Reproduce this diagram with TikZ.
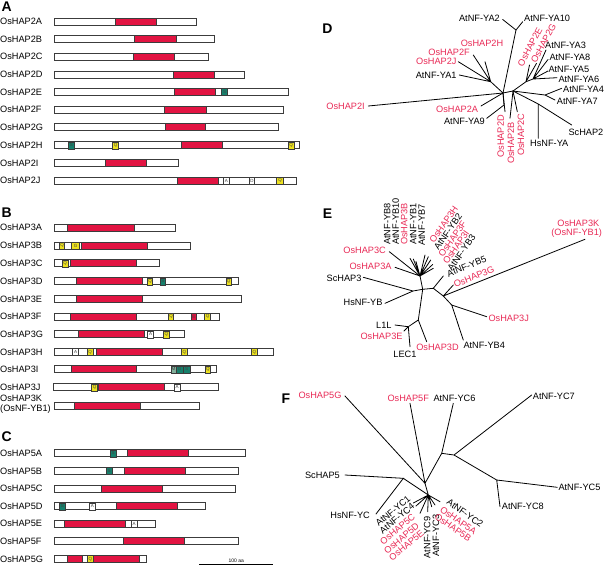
\documentclass[tikz,border=0pt]{standalone}
\usepackage{fontspec}
\setmainfont{Liberation Sans}
\definecolor{dred}{RGB}{226,20,66}
\definecolor{lred}{RGB}{232,42,86}
\definecolor{dyel}{RGB}{236,224,30}
\definecolor{dteal}{RGB}{22,128,108}
\definecolor{dmint}{RGB}{130,175,155}
\definecolor{outl}{RGB}{60,60,60}
\newcommand\protbar[3][54.3]{\draw[barbox,fill=white] (#1,{#2-3.5}) rectangle (#3,{#2+3.5});}
\newcommand\dseg[3]{\draw[barbox,fill=dred] (#2,{#1-3.5}) rectangle (#3,{#1+3.5});}
\newcommand\dmot[5]{\draw[mbox,fill=#4] (#2,{#1-3.5}) rectangle (#3,{#1+3.5}); \node[motif] at ({(#2+#3)/2},#1) {#5};}
\begin{document}
\begin{tikzpicture}[x=1pt,y=-1pt,
 lab/.style={font=\fontsize{9.2}{10}\selectfont, inner sep=0pt},
 rlab/.style={lab,text=lred},
 barbox/.style={draw=outl,line width=0.75pt},
 mbox/.style={draw=outl,line width=0.5pt},
 motif/.style={font=\fontsize{4.5}{5}\selectfont,inner sep=0pt,text=black!75},
 branch/.style={line width=0.8pt,line cap=round},
 plabel/.style={font=\fontsize{14}{14}\bfseries\selectfont,inner sep=0pt}]
\useasboundingbox (0,0) rectangle (605,566);
% ---------------- Panel A ----------------
\node[plabel,anchor=north west] (pA) at (1.5,1.5) {A};
\node[lab,anchor=west] (l2A) at (0,21.7) {OsHAP2A};
\node[lab,anchor=west] (l2B) at (0,39.3) {OsHAP2B};
\node[lab,anchor=west] (l2C) at (0,56.7) {OsHAP2C};
\node[lab,anchor=west] (l2D) at (0,74.7) {OsHAP2D};
\node[lab,anchor=west] (l2E) at (0,92) {OsHAP2E};
\node[lab,anchor=west] (l2F) at (0,109.7) {OsHAP2F};
\node[lab,anchor=west] (l2G) at (0,127.3) {OsHAP2G};
\node[lab,anchor=west] (l2H) at (0,145.3) {OsHAP2H};
\node[lab,anchor=west] (l2I) at (0,163) {OsHAP2I};
\node[lab,anchor=west] (l2J) at (0,180.7) {OsHAP2J};
\protbar{21.7}{196.7}\dseg{21.7}{115}{156}
\protbar{39.3}{214.3}\dseg{39.3}{134.3}{176}
\protbar{56.7}{208.3}\dseg{56.7}{133.3}{174.3}
\protbar{74.7}{244.3}\dseg{74.7}{173.3}{214.7}
\protbar{92}{288}\dseg{92}{174.3}{215.3}\dmot{92}{221.7}{227.7}{dteal}{S}
\protbar{109.7}{283.3}\dseg{109.7}{164.3}{206}
\protbar{127.3}{278.3}\dseg{127.3}{165}{205.7}
\protbar{145.3}{299.6}\dmot{145.3}{68.3}{74.3}{dteal}{S}\dmot{145.3}{112.7}{118.7}{dyel}{Q}\dseg{145.3}{181.7}{222.7}\dmot{145.3}{288.3}{294}{dyel}{Q}
\protbar{163}{178.3}\dseg{163}{105.3}{146.7}
\protbar{180.7}{296}\dseg{180.7}{177.3}{218.3}\dmot{180.7}{223.3}{229.3}{white}{A}\dmot{180.7}{249.3}{254.7}{white}{D}\dmot{180.7}{276.7}{283.3}{dyel}{Q}
% ---------------- Panel B ----------------
\node[plabel,anchor=north west] (pB) at (1.5,208) {B};
\node[lab,anchor=west] (l3A) at (0,227.7) {OsHAP3A};
\node[lab,anchor=west] (l3B) at (0,245.7) {OsHAP3B};
\node[lab,anchor=west] (l3C) at (0,263.3) {OsHAP3C};
\node[lab,anchor=west] (l3D) at (0,281.3) {OsHAP3D};
\node[lab,anchor=west] (l3E) at (0,299) {OsHAP3E};
\node[lab,anchor=west] (l3F) at (0,316.7) {OsHAP3F};
\node[lab,anchor=west] (l3G) at (0,334.3) {OsHAP3G};
\node[lab,anchor=west] (l3H) at (0,352) {OsHAP3H};
\node[lab,anchor=west] (l3I) at (0,369.3) {OsHAP3I};
\node[lab,anchor=west] (l3J) at (0,387.3) {OsHAP3J};
\node[lab,anchor=west] (l3K) at (0,398.5) {OsHAP3K};
\node[lab,anchor=west] (l3Kb) at (0,409.5) {(OsNF-YB1)};
\protbar{227.7}{175.3}\dseg{227.7}{67.7}{134}
\protbar{245.7}{190.7}\dmot{245.7}{59.3}{64.7}{dyel}{Q}\dmot{245.7}{71.7}{79.3}{dyel}{G}\dseg{245.7}{81.3}{147}
\protbar{263.3}{159.3}\dmot{263.3}{62.3}{68}{dyel}{Q}\dseg{263.3}{70.7}{136.3}
\protbar{281.3}{238.7}\dseg{281.3}{76}{142}\dmot{281.3}{147.3}{152.7}{dyel}{Q}\dmot{281.3}{160}{165.7}{dteal}{S}\dmot{281.3}{226}{231.3}{dyel}{Q}
\protbar{299}{241.3}\dseg{299}{76.7}{142.7}
\protbar{316.7}{219.3}\dseg{316.7}{70}{136.3}\dmot{316.7}{168.3}{173.7}{dyel}{Q}\dmot{316.7}{191.3}{196.3}{dred}{E}\dmot{316.7}{204.7}{210.3}{dyel}{Q}
\protbar{334.3}{184.3}\dseg{334.3}{78.3}{144.3}\dmot{334.3}{147.7}{153.3}{white}{A}\dmot{334.3}{163.7}{169}{dyel}{Q}
\protbar{352}{273.3}\dmot{352}{72.7}{78.7}{white}{A}\dmot{352}{87.3}{93}{dyel}{Q}\dseg{352}{96}{162.3}\dmot{352}{181.7}{187}{dyel}{Q}\dmot{352}{251.7}{257}{dyel}{Q}
\protbar{369.3}{216}\dseg{369.3}{71}{136.7}\dmot{369.3}{171}{176}{dmint}{M}\dmot{369.3}{176}{183}{dteal}{G}\dmot{369.3}{183}{190}{dteal}{S}\dmot{369.3}{205}{210.7}{dyel}{Q}
\protbar[53.3]{387.3}{218.3}\dmot{387.3}{91.7}{97.3}{dyel}{Q}\dseg{387.3}{98.3}{164}\dmot{387.3}{174}{180}{white}{A}
\protbar{405.7}{199}\dseg{405.7}{74.3}{140.7}
% ---------------- Panel C ----------------
\node[plabel,anchor=north west] (pC) at (1.5,432) {C};
\node[lab,anchor=west] (l5A) at (0,453.3) {OsHAP5A};
\node[lab,anchor=west] (l5B) at (0,471) {OsHAP5B};
\node[lab,anchor=west] (l5C) at (0,488.7) {OsHAP5C};
\node[lab,anchor=west] (l5D) at (0,506.3) {OsHAP5D};
\node[lab,anchor=west] (l5E) at (0,523.7) {OsHAP5E};
\node[lab,anchor=west] (l5F) at (0,541.3) {OsHAP5F};
\node[lab,anchor=west] (l5G) at (0,559) {OsHAP5G};
\protbar{453.3}{245.3}\dmot{453.3}{110}{116}{dteal}{S}\dseg{453.3}{127.3}{188.7}
\protbar{471}{238.7}\dmot{471}{106}{112.3}{dteal}{S}\dseg{471}{124.3}{185.3}
\protbar{488.7}{235.7}\dseg{488.7}{101.7}{162.7}
\protbar{506.3}{205.7}\dmot{506.3}{59.3}{65.3}{dteal}{S}\dmot{506.3}{89.3}{95.3}{white}{A}\dseg{506.3}{116.3}{177.3}
\protbar{523.7}{155}\dseg{523.7}{64.7}{125.7}\dmot{523.7}{131}{137}{white}{A}
\protbar{541.3}{238}\dseg{541.3}{123.7}{184.3}
\protbar{559}{146.3}\dseg{559}{67.3}{82.3}\dmot{559}{87.3}{93.3}{dyel}{Q}\dseg{559}{93.3}{139.3}
\coordinate (sb1) at (199.3,564.3);
\coordinate (sb2) at (273.3,564.3);
\draw[line width=0.6pt] (sb1) -- (sb2);
\node[font=\fontsize{5}{6}\selectfont,inner sep=0pt] (sbt) at (236.3,560.3) {100 aa};
% ---------------- Panel D ----------------
\node[plabel] (pD) at (327.5,29) {D};
\coordinate (dc1) at (503,93);
\coordinate (dc2) at (513,91);
\coordinate (dU) at (516,30);
\coordinate (dH) at (490.7,81.7);
\coordinate (dE) at (526,81.7);
\coordinate (dR) at (533,79);
\coordinate (d4) at (545,95);
\coordinate (dS) at (538.3,104);
\coordinate (dA) at (504,105);
\node[lab,anchor=east] (tYA2) at (500,18.3) {AtNF-YA2};
\node[lab,anchor=west] (tYA10) at (524,18.3) {AtNF-YA10};
\node[rlab] (t2H) at (482,43.3) {OsHAP2H};
\node[rlab,anchor=east] (t2F) at (470,52.3) {OsHAP2F};
\node[rlab,anchor=east] (t2J) at (456.7,61) {OsHAP2J};
\node[lab,anchor=east] (tYA1) at (456.7,75.7) {AtNF-YA1};
\node[rlab,anchor=east] (t2I) at (365,106.7) {OsHAP2I};
\node[rlab,anchor=east] (t2A) at (478.3,109) {OsHAP2A};
\node[lab,anchor=east] (tYA9) at (485,121.7) {AtNF-YA9};
\node[lab,anchor=west] (tYA3) at (545,45.7) {AtNF-YA3};
\node[lab,anchor=west] (tYA8) at (549.3,57.3) {AtNF-YA8};
\node[lab,anchor=west] (tYA5) at (548.3,69) {AtNF-YA5};
\node[lab,anchor=west] (tYA6) at (558.3,79) {AtNF-YA6};
\node[lab,anchor=west] (tYA4) at (563,89.3) {AtNF-YA4};
\node[lab,anchor=west] (tYA7) at (556.7,101.7) {AtNF-YA7};
\node[lab,anchor=east] (tSc2) at (603.5,132.7) {ScHAP2};
\node[lab,anchor=west] (tHs2) at (530,143.3) {HsNF-YA};
\node[rlab,rotate=62] (t2E) at (530,47) {OsHAP2E};
\node[rlab,rotate=62] (t2G) at (543.5,43.5) {OsHAP2G};
\node[rlab,rotate=90,anchor=east] (t2D) at (500.8,115) {OsHAP2D};
\node[rlab,rotate=90,anchor=east] (t2B) at (511,121.7) {OsHAP2B};
\node[rlab,rotate=90,anchor=east] (t2C) at (521,113.3) {OsHAP2C};
\coordinate (eYA2) at (502.7,19.5);
\coordinate (eYA10) at (522.7,21.7);
\coordinate (e2H) at (485,61.7);
\coordinate (e2F) at (473.3,55);
\coordinate (e2J) at (458.3,61.7);
\coordinate (eYA1) at (459.3,75);
\coordinate (e2I) at (368.3,106);
\coordinate (e2A) at (481,106);
\coordinate (eYA9) at (486.7,118.3);
\coordinate (e2E) at (529.5,65);
\coordinate (e2G) at (536.5,63.3);
\coordinate (eYA3) at (546,50);
\coordinate (eYA8) at (548,59.5);
\coordinate (eYA5) at (548,71);
\coordinate (eYA6) at (557,77.7);
\coordinate (eYA4) at (561.7,88.3);
\coordinate (eYA7) at (555,100);
\coordinate (eSc2) at (571.7,125);
\coordinate (eHs2) at (538.3,138.3);
\coordinate (e2D) at (505,111.7);
\coordinate (e2B) at (510,118.3);
\coordinate (e2C) at (517.3,111.7);
\draw[branch] (e2I) -- (dc1) -- (dc2);
\draw[branch] (dc1) -- (dU) -- (eYA2) (dU) -- (eYA10);
\draw[branch] (dc1) -- (dH) -- (e2H) (dH) -- (e2F) (dH) -- (e2J) (dH) -- (eYA1);
\draw[branch] (dc2) -- (dE) -- (e2E) (dE) -- (e2G);
\draw[branch] (dE) -- (dR) -- (eYA3) (dR) -- (eYA8) (dR) -- (eYA5) (dR) -- (eYA6);
\draw[branch] (dc2) -- (d4) -- (eYA4) (d4) -- (eYA7);
\draw[branch] (dc2) -- (dS) -- (eSc2) (dS) -- (eHs2);
\draw[branch] (dc1) -- (e2A);
\draw[branch] (dc1) -- (dA) -- (eYA9);
\draw[branch] (dc1) -- (e2D) (dc2) -- (e2B) (dc2) -- (e2C);
% ---------------- Panel E ----------------
\node[plabel] (pE) at (327.5,213.3) {E};
\coordinate (xTop) at (420,276);
\coordinate (xS) at (413,291);
\coordinate (xB) at (422.7,289.3);
\coordinate (xC) at (418.3,320);
\coordinate (xD) at (408.3,326.7);
\coordinate (xF) at (433.3,288.3);
\coordinate (xG) at (443.3,296);
\coordinate (xH) at (451.7,305);
\node[rlab,anchor=east] (u3C) at (386,250.7) {OsHAP3C};
\node[rlab,anchor=east] (u3A) at (391.7,266) {OsHAP3A};
\node[lab,anchor=east] (uSc3) at (361.7,278.3) {ScHAP3};
\node[lab,anchor=east] (uHs3) at (382.7,302.3) {HsNF-YB};
\node[lab,anchor=east] (uL1L) at (391.7,325.7) {L1L};
\node[rlab,anchor=east] (u3E) at (402.7,336) {OsHAP3E};
\node[lab] (uLEC) at (405,354) {LEC1};
\node[rlab] (u3D) at (437.5,347.3) {OsHAP3D};
\node[lab,anchor=west] (uYB4) at (463.3,345) {AtNF-YB4};
\node[rlab,anchor=west] (u3J) at (488.3,318.3) {OsHAP3J};
\node[rlab] (u3K) at (578.3,223.3) {OsHAP3K};
\node[rlab] (u3Kb) at (576.7,233.5) {(OsNF-YB1)};
\node[rlab,rotate=22] (u3G) at (474,276.7) {OsHAP3G};
\node[lab,rotate=22] (uYB5) at (466.7,266.5) {AtNF-YB5};
\node[lab,rotate=90,anchor=west] (uYB8) at (387.3,245) {AtNF-YB8};
\node[lab,rotate=90,anchor=west] (uYB10) at (395.7,245) {AtNF-YB10};
\node[rlab,rotate=90,anchor=west] (u3B) at (404.3,245) {OsHAP3B};
\node[lab,rotate=90,anchor=west] (uYB1) at (413.3,245) {AtNF-YB1};
\node[lab,rotate=90,anchor=west] (uYB7) at (421.7,246) {AtNF-YB7};
\node[rlab,rotate=55,anchor=west] (u3H) at (431.5,242) {OsHAP3H};
\node[lab,rotate=55,anchor=west] (uYB2) at (436,249) {AtNF-YB2};
\node[rlab,rotate=55,anchor=west] (u3F) at (440.5,256) {OsHAP3F};
\node[rlab,rotate=55,anchor=west] (u3I) at (445,263) {OsHAP3I};
\node[lab,rotate=55,anchor=west] (uYB3) at (449.5,270) {AtNF-YB3};
\coordinate (v3C) at (389.3,251.7);
\coordinate (v3A) at (395,267.3);
\coordinate (vSc3) at (363.3,277.3);
\coordinate (vHs3) at (385,303.3);
\coordinate (vL1L) at (395,325);
\coordinate (v3E) at (404,331);
\coordinate (vLEC) at (410,346.7);
\coordinate (v3D) at (426.7,341.7);
\coordinate (vYB5) at (443.3,276);
\coordinate (v3G) at (453.3,285);
\coordinate (v3K) at (585,239.3);
\coordinate (v3J) at (486.7,316.7);
\coordinate (vYB4) at (463.3,340);
\coordinate (t1) at (410,258.3);
\coordinate (t2) at (413.3,259);
\coordinate (t3) at (416,261.5);
\coordinate (t4) at (425,255);
\coordinate (t5) at (428.3,256.7);
\coordinate (t6) at (430.7,260);
\coordinate (t7) at (432.7,264.5);
\coordinate (t8) at (433.3,268.3);
\draw[branch] (v3C) -- (xTop) (v3A) -- (xTop);
\draw[branch] (xTop) -- (t1) (xTop) -- (t2) (xTop) -- (t3) (xTop) -- (t4) (xTop) -- (t5) (xTop) -- (t6) (xTop) -- (t7) (xTop) -- (t8);
\draw[branch] (xTop) -- (xB);
\draw[branch] (vSc3) -- (xS) (vHs3) -- (xS) (xS) -- (xB);
\draw[branch] (xB) -- (xC) -- (v3D) (xC) -- (xD) -- (vL1L) (xD) -- (v3E) (xD) -- (vLEC);
\draw[branch] (xB) -- (xF) -- (vYB5) (xF) -- (xG) -- (v3G) (xG) -- (v3K) (xG) -- (xH) -- (v3J) (xH) -- (vYB4);
% ---------------- Panel F ----------------
\node[plabel] (pF) at (286,398.5) {F};
\coordinate (cA) at (425,483.3);
\coordinate (cB) at (428.3,495);
\coordinate (f1) at (441.7,453.3);
\coordinate (f2) at (454,455);
\coordinate (f3) at (496.7,480);
\coordinate (f4) at (403.3,478.3);
\node[rlab,anchor=east] (w5G) at (341.7,395) {OsHAP5G};
\node[rlab,anchor=west] (w5F) at (387.3,398.3) {OsHAP5F};
\node[lab,anchor=west] (wYC6) at (433.3,398.3) {AtNF-YC6};
\node[lab,anchor=west] (wYC7) at (532.7,396) {AtNF-YC7};
\node[lab,anchor=west] (wYC5) at (558.3,487.3) {AtNF-YC5};
\node[lab,anchor=west] (wYC8) at (501.7,506.7) {AtNF-YC8};
\node[lab,anchor=east] (wSc5) at (340,475) {ScHAP5};
\node[lab,anchor=east] (wHs5) at (370,515) {HsNF-YC};
\node[lab,rotate=40] (wYC1) at (393,511) {AtNF-YC1};
\node[lab,rotate=40] (wYC4) at (397,518.5) {AtNF-YC4};
\node[rlab,rotate=40] (w5C) at (397.5,529) {OsHAP5C};
\node[rlab,rotate=40] (w5D) at (401.5,538.5) {OsHAP5D};
\node[rlab,rotate=40] (w5E) at (406.5,545.5) {OsHAP5E};
\node[lab,rotate=90] (wYC9) at (427.3,537.3) {AtNF-YC9};
\node[lab,rotate=90] (wYC3) at (436,535.8) {AtNF-YC3};
\node[lab,rotate=-35] (wYC2) at (465,513.3) {AtNF-YC2};
\node[rlab,rotate=-35] (w5A) at (458.3,520.5) {OsHAP5A};
\node[rlab,rotate=-35] (w5B) at (453,527.5) {OsHAP5B};
\coordinate (y5G) at (345,396);
\coordinate (y5F) at (410,403.3);
\coordinate (yYC6) at (453.3,403.3);
\coordinate (yYC7) at (531.7,395);
\coordinate (yYC5) at (557.3,487.3);
\coordinate (yYC8) at (500,506.7);
\coordinate (ySc5) at (345,475);
\coordinate (yHs5) at (376,514);
\coordinate (g1) at (413.3,503);
\coordinate (g2) at (416,506);
\coordinate (g3) at (420,513.3);
\coordinate (g4) at (427.7,511.7);
\coordinate (g5) at (431.7,506.7);
\coordinate (g6) at (435,505);
\coordinate (g7) at (440,501.7);
\draw[branch] (y5G) -- (cA) (y5F) -- (cA) (cA) -- (f1) -- (yYC6) (f1) -- (f2) -- (yYC7) (f2) -- (f3) -- (yYC5) (f3) -- (yYC8);
\draw[branch] (cA) -- (cB) (ySc5) -- (f4) -- (yHs5) (f4) -- (cB);
\draw[branch] (cB) -- (g1) (cB) -- (g2) (cB) -- (g3) (cB) -- (g4) (cB) -- (g5) (cB) -- (g6) (cB) -- (g7);
\end{tikzpicture}
\end{document}
